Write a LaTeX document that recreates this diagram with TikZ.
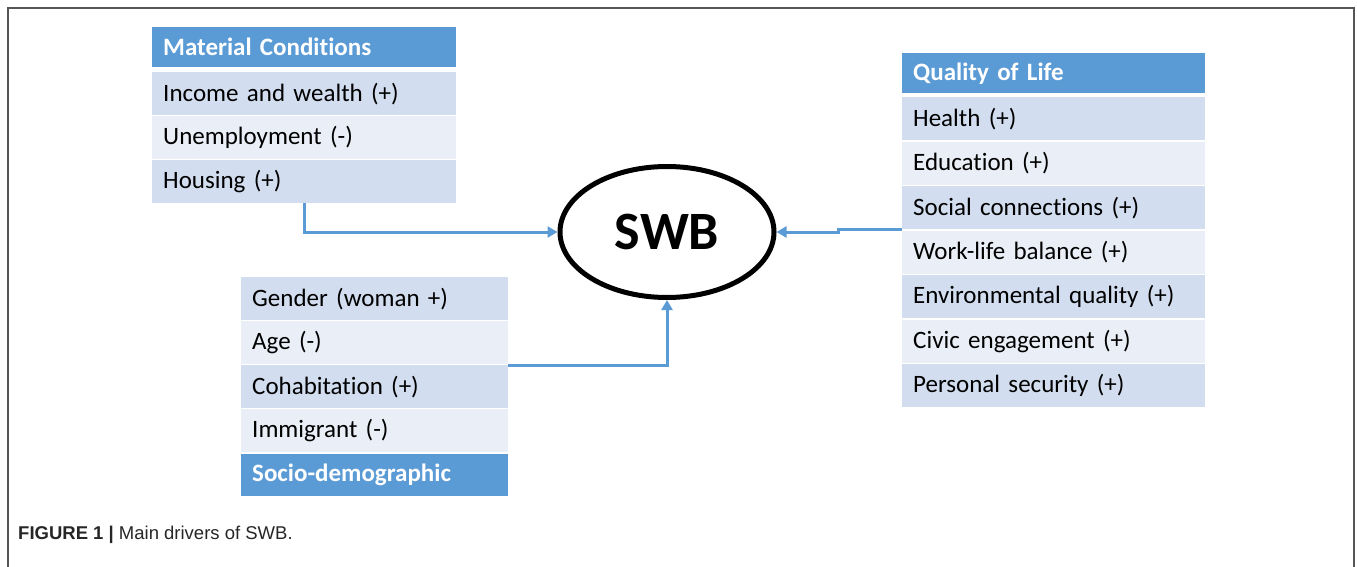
\documentclass[tikz,border=0pt]{standalone}
\usepackage{fontspec}
\setmainfont{Carlito}[Ligatures=NoCommon]
\newfontfamily\captionfont{Liberation Sans}
\usetikzlibrary{arrows.meta, positioning, shapes.geometric}
\definecolor{headblue}{HTML}{5B9BD5}
\definecolor{rowdark}{HTML}{D2DEEF}
\definecolor{rowlight}{HTML}{EAEFF7}
\definecolor{framegray}{HTML}{555555}

\begin{document}
\begin{tikzpicture}[x=1pt, y=-1pt,
        % Style for header cells and table rows
        header/.style={fill=headblue, text=white, anchor=north west, minimum height=40pt, inner xsep=11pt, inner ysep=0pt, align=left, font=\fontsize{25}{28}\selectfont\bfseries},
        row dark/.style={fill=rowdark, text=black, anchor=north west, minimum height=43pt, inner xsep=11pt, inner ysep=0pt, align=left, font=\fontsize{25}{28}\selectfont},
        row light/.style={row dark, fill=rowlight},
        % Style for the central ellipse and the arrows
        swb/.style={draw, ellipse, line width=5pt, minimum width=214pt, minimum height=131pt, font=\fontsize{54}{60}\selectfont\bfseries},
        arrow/.style={-{Triangle[length=10pt, width=11pt]}, line width=3pt, draw=headblue},
        frame/.style={draw=framegray, line width=1.6pt}
    ]
    \useasboundingbox (0,0) rectangle (1357,567);
    \draw[frame] (8,567) -- (8,8) -- (1354,8) -- (1354,567);

    % Central node
    \node[swb] at (667, 232) (swb) {SWB};

    % Material conditions
    \node[header, text width=282pt] at (152, 27) (material) {Material Conditions};
    \node[row dark, text width=282pt] at (152, 72) (income) {Income and wealth (+)};
    \node[row light, text width=282pt] at (152, 116) (unemployment) {Unemployment (-)};
    \node[row dark, text width=282pt] at (152, 160) (housing) {Housing (+)};

    % Quality of life
    \node[header, text width=281pt] at (902, 53) (quality) {Quality of Life};
    \node[row dark, text width=281pt] at (902, 97) (health) {Health (+)};
    \node[row light, text width=281pt] at (902, 141.5) (education) {Education (+)};
    \node[row dark, text width=281pt] at (902, 186) (social) {Social connections (+)};
    \node[row light, text width=281pt] at (902, 230.5) (worklife) {Work-life balance (+)};
    \node[row dark, text width=281pt] at (902, 275) (environment) {Environmental quality (+)};
    \node[row light, text width=281pt] at (902, 319.5) (civic) {Civic engagement (+)};
    \node[row dark, text width=281pt] at (902, 364) (security) {Personal security (+)};

    % Socio-demographic
    \node[row dark, text width=245pt] at (241, 277) (gender) {Gender (woman +)};
    \node[row light, text width=245pt] at (241, 321) (age) {Age (-)};
    \node[row dark, text width=245pt] at (241, 365) (cohabitation) {Cohabitation (+)};
    \node[row light, text width=245pt] at (241, 409) (immigrant) {Immigrant (-)};
    \node[header, text width=245pt, minimum height=42pt] at (241, 454) (socio) {Socio-demographic};

    % Drawing arrows to SWB
    \draw[arrow] (housing.south) |- (swb.west);
    \draw[arrow] (cohabitation.north east) -| (swb.south);
    \draw[arrow] (social.south west) -- ++(-64,0) |- (swb.east);

    % Caption
    \node[anchor=west, inner sep=0pt, text=black!85, font=\captionfont\fontsize{18.5}{22}\selectfont] at (18, 535) (caption) {\textbf{FIGURE 1 |} Main drivers of SWB.};
\end{tikzpicture}
\end{document}
